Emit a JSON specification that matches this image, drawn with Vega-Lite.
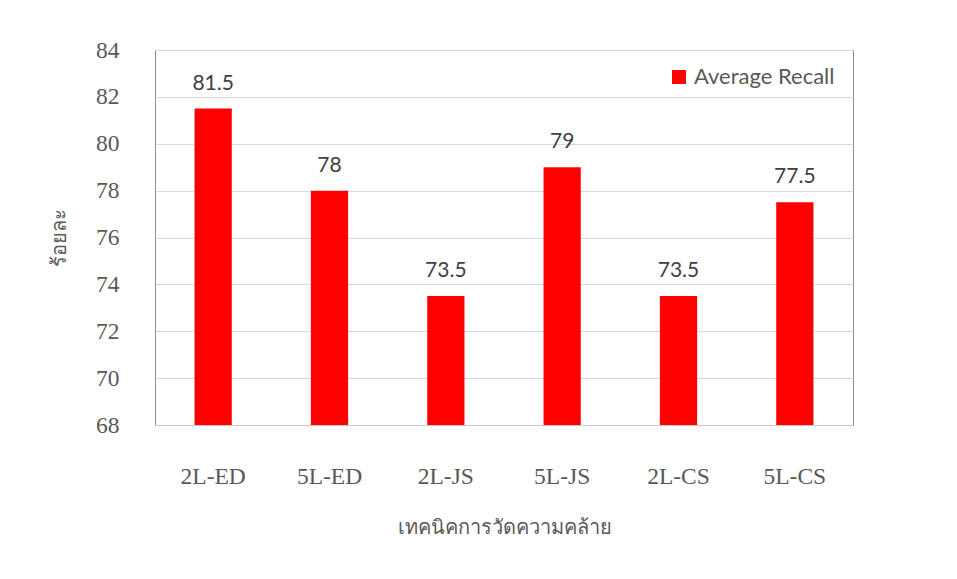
{
  "$schema": "https://vega.github.io/schema/vega-lite/v6.json",
  "autosize": {"type": "none"},
  "width": 698,
  "height": 375,
  "padding": {"left": 155, "top": 50, "right": 104, "bottom": 154},
  "background": "white",
  "config": {
    "view": {"stroke": "#8c8c8c", "strokeWidth": 1},
    "font": "Liberation Serif"
  },
  "data": {
    "values": [
      {"technique": "2L-ED", "value": 81.5, "series": "Average Recall"},
      {"technique": "5L-ED", "value": 78, "series": "Average Recall"},
      {"technique": "2L-JS", "value": 73.5, "series": "Average Recall"},
      {"technique": "5L-JS", "value": 79, "series": "Average Recall"},
      {"technique": "2L-CS", "value": 73.5, "series": "Average Recall"},
      {"technique": "5L-CS", "value": 77.5, "series": "Average Recall"}
    ]
  },
  "layer": [
    {
      "mark": {"type": "bar", "clip": true},
      "encoding": {
        "x": {
          "field": "technique",
          "type": "nominal",
          "sort": null,
          "scale": {"paddingInner": 0.68, "paddingOuter": 0.34},
          "axis": {
            "title": "เทคนิคการวัดความคล้าย",
            "labelAngle": 0,
            "grid": false,
            "labelFont": "Liberation Serif",
            "labelFontSize": 23.5,
            "labelColor": "#595959",
            "labelPadding": 39,
            "titleFont": "Liberation Serif",
            "titleFontSize": 20,
            "titleFontWeight": "normal",
            "titleColor": "#595959",
            "titlePadding": 30,
            "ticks": false,
            "domainColor": "#c8c8c8"
          }
        },
        "y": {
          "field": "value",
          "type": "quantitative",
          "scale": {"domain": [68, 84], "nice": false, "zero": false},
          "axis": {
            "title": "ร้อยละ",
            "values": [68, 70, 72, 74, 76, 78, 80, 82, 84],
            "grid": true,
            "labelFont": "Liberation Serif",
            "labelFontSize": 23.5,
            "labelColor": "#595959",
            "labelPadding": 36,
            "titleFont": "Liberation Serif",
            "titleFontSize": 20,
            "titleFontWeight": "normal",
            "titleColor": "#595959",
            "titlePadding": 26,
            "ticks": false,
            "domain": false,
            "gridColor": "#d9d9d9"
          }
        },
        "color": {
          "field": "series",
          "type": "nominal",
          "scale": {"range": ["#ff0000"]},
          "legend": {
            "title": null,
            "orient": "none",
            "legendX": 513,
            "legendY": 16,
            "symbolType": "square",
            "symbolSize": 196,
            "symbolStrokeWidth": 0,
            "labelFont": "Lato",
            "labelFontSize": 22,
            "labelColor": "#595959",
            "labelOffset": 4
          }
        }
      }
    },
    {
      "mark": {
        "type": "text",
        "baseline": "middle",
        "dy": -25,
        "font": "Lato",
        "fontSize": 21,
        "color": "#404040"
      },
      "encoding": {
        "x": {"field": "technique", "type": "nominal", "sort": null},
        "y": {"field": "value", "type": "quantitative"},
        "text": {"field": "value", "type": "quantitative"}
      }
    }
  ]
}
